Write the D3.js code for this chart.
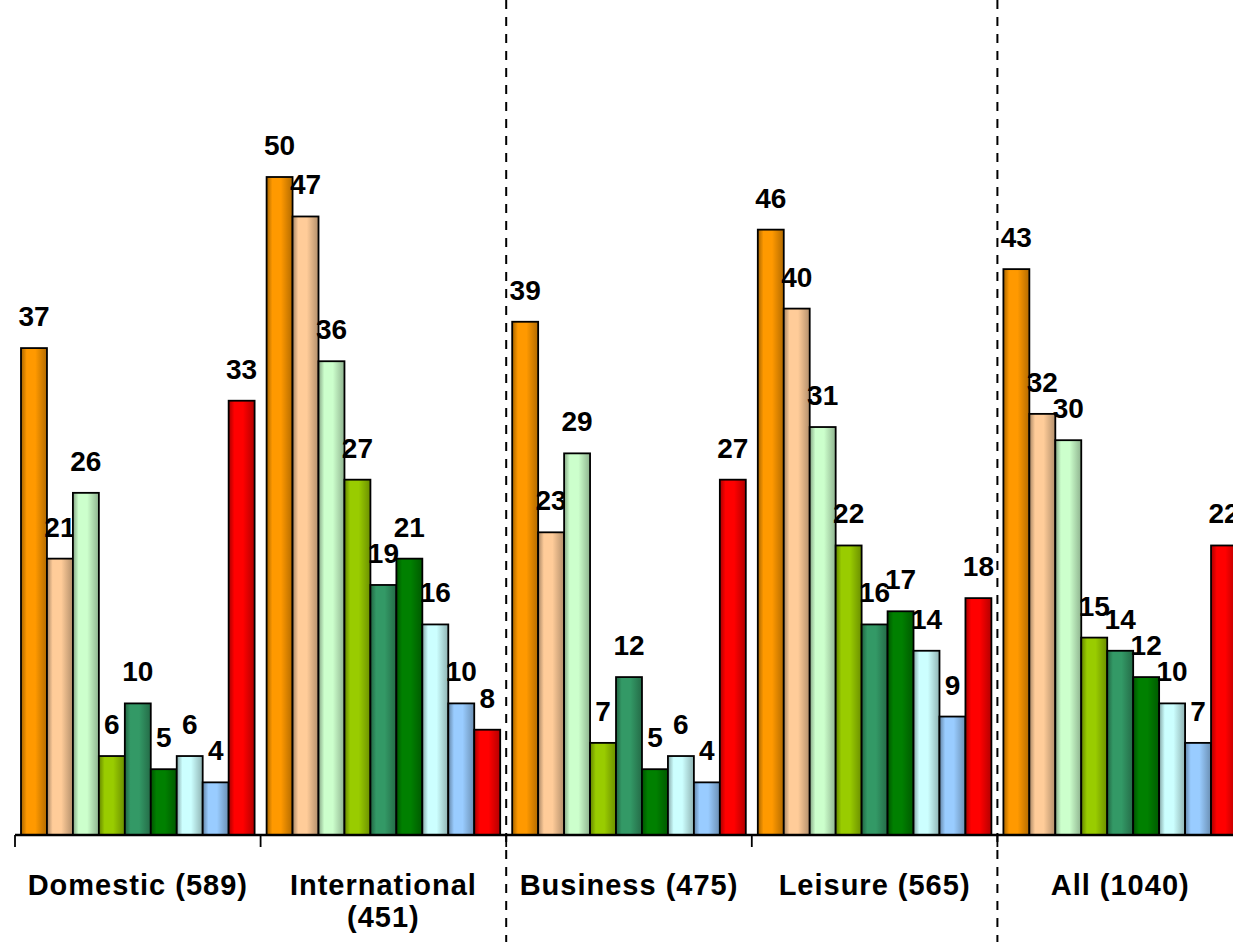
<!DOCTYPE html>
<html>
<head>
<meta charset="utf-8">
<script src="https://cdn.jsdelivr.net/npm/d3@7"></script>
<style>
  html, body { margin: 0; padding: 0; background: #ffffff; }
  svg { display: block; }
  text { font-family: "Liberation Sans", Arial, sans-serif; font-weight: bold; fill: #000; }
</style>
</head>
<body>
<svg id="chart" width="1233" height="942"></svg>
<script>
// ---- data ----
const categories = ["Domestic (589)", "International (451)", "Business (475)", "Leisure (565)", "All (1040)"];
const seriesNames = ["Series 1", "Series 2", "Series 3", "Series 4", "Series 5", "Series 6", "Series 7", "Series 8", "Series 9"];
const series1 = [37, 50, 39, 46, 43];
const series2 = [21, 47, 23, 40, 32];
const series3 = [26, 36, 29, 31, 30];
const series4 = [6, 27, 7, 22, 15];
const series5 = [10, 19, 12, 16, 14];
const series6 = [5, 21, 5, 17, 12];
const series7 = [6, 16, 6, 14, 10];
const series8 = [4, 10, 4, 9, 7];
const series9 = [33, 8, 27, 18, 22];
const seriesColors = ["#FF9900", "#FFCC99", "#CCFFCC", "#99CC00", "#339966", "#008000", "#CCFFFF", "#99CCFF", "#FF0000"];
const separatorsAfter = ["International (451)", "Leisure (565)"];

const allSeries = [series1, series2, series3, series4, series5, series6, series7, series8, series9];

// ---- layout ----
const W = 1233, H = 942;
const baseY = 835;
const x0Left = 15, step = 245.6;
const svg = d3.select("#chart");

const x0 = d3.scaleBand()
  .domain(categories)
  .range([x0Left, x0Left + step * categories.length])
  .paddingInner(0).paddingOuter(0);

const x1 = d3.scaleBand()
  .domain(seriesNames)
  .range([6, x0.bandwidth() - 6])
  .paddingInner(0).paddingOuter(0);

const y = d3.scaleLinear().domain([0, 50]).range([baseY, baseY - 658]);

// gradients
const defs = svg.append("defs");
seriesColors.forEach((c, i) => {
  const g = defs.append("linearGradient")
    .attr("id", "grad" + i)
    .attr("x1", "0%").attr("x2", "100%").attr("y1", "0%").attr("y2", "0%");
  const base = d3.color(c);
  g.append("stop").attr("offset", "0%").attr("stop-color", base.darker(1.2).formatHex());
  g.append("stop").attr("offset", "22%").attr("stop-color", base.formatHex());
  g.append("stop").attr("offset", "55%").attr("stop-color", base.formatHex());
  g.append("stop").attr("offset", "100%").attr("stop-color", base.darker(1.0).formatHex());
});

// bars + labels, series by series (later series drawn over earlier labels)
const plot = svg.append("g");
allSeries.forEach((vals, si) => {
  const g = plot.append("g");
  const data = categories.map((cat, ci) => ({ cat, v: vals[ci] }));
  g.selectAll("rect").data(data).join("rect")
    .attr("x", d => x0(d.cat) + x1(seriesNames[si]))
    .attr("y", d => y(d.v))
    .attr("width", x1.bandwidth())
    .attr("height", d => baseY - y(d.v))
    .attr("fill", `url(#grad${si})`)
    .attr("stroke", "#000")
    .attr("stroke-width", 1.8);
  g.selectAll("text").data(data).join("text")
    .attr("x", d => x0(d.cat) + x1(seriesNames[si]) + x1.bandwidth() / 2)
    .attr("y", d => y(d.v) - 22)
    .attr("text-anchor", "middle")
    .style("font-size", "28px")
    .text(d => d.v);
});

// x axis
const axisG = svg.append("g");
axisG.append("line")
  .attr("x1", x0Left).attr("x2", W)
  .attr("y1", baseY).attr("y2", baseY)
  .attr("stroke", "#000").attr("stroke-width", 2.4);
const tickXs = categories.map(c => x0(c));
axisG.selectAll("line.tick").data(tickXs).join("line")
  .attr("class", "tick")
  .attr("x1", d => d).attr("x2", d => d)
  .attr("y1", baseY).attr("y2", baseY + 12)
  .attr("stroke", "#000").attr("stroke-width", 1.8);

// category labels with wrap
const labels = axisG.selectAll("text.cat").data(categories).join("text")
  .attr("class", "cat")
  .attr("text-anchor", "middle")
  .style("font-size", "29px")
  .style("letter-spacing", "1px")
  .attr("x", d => x0(d) + x0.bandwidth() / 2)
  .attr("y", 895);
labels.each(function(d) {
  const t = d3.select(this);
  const cx = x0(d) + x0.bandwidth() / 2;
  t.text(d);
  if (this.getComputedTextLength() > x0.bandwidth() - 10) {
    const words = d.split(" ");
    const last = words.pop();
    t.text(null);
    t.append("tspan").attr("x", cx).attr("y", 895).text(words.join(" "));
    t.append("tspan").attr("x", cx).attr("y", 927).text(last);
  }
});

// dashed separators
svg.selectAll("line.sep").data(separatorsAfter).join("line")
  .attr("class", "sep")
  .attr("x1", d => x0(d) + x0.bandwidth()).attr("x2", d => x0(d) + x0.bandwidth())
  .attr("y1", 0).attr("y2", H)
  .attr("stroke", "#000").attr("stroke-width", 2)
  .attr("stroke-dasharray", "9,8");
</script>
</body>
</html>
